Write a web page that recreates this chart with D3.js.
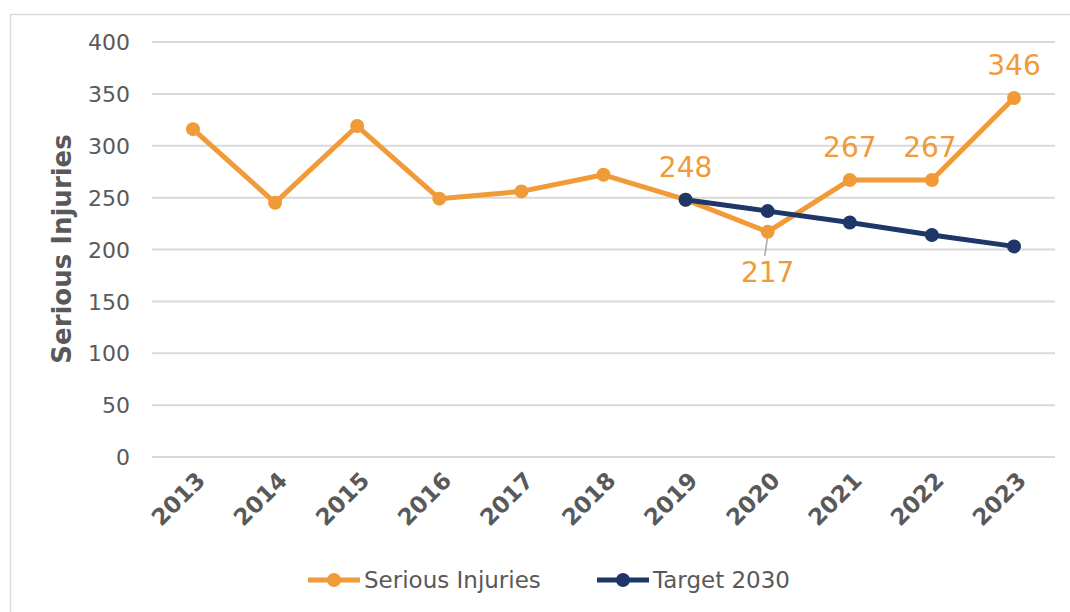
<!DOCTYPE html>
<html>
<head>
<meta charset="utf-8">
<script src="https://cdn.jsdelivr.net/npm/d3@7"></script>
<style>
  body { margin: 0; background: #fff; }
  svg { font-family: "DejaVu Sans", Verdana, sans-serif; }
</style>
</head>
<body>
<div id="chart"></div>
<script>
// data
var years = ["2013","2014","2015","2016","2017","2018","2019","2020","2021","2022","2023"];
var injuries = [316, 245, 319, 249, 256, 272, 248, 217, 267, 267, 346];
var targetYears = ["2019","2020","2021","2022","2023"];
var target = [248, 237, 226, 214, 203];
var yTicks = [0, 50, 100, 150, 200, 250, 300, 350, 400];
var labelled = ["2019","2020","2021","2022","2023"];

var width = 1070, height = 612;
var orange = "#F09A38", navy = "#1F3668";
var margin = {left: 152, right: 15, top: 42, bottom: 155};

var svg = d3.select("#chart").append("svg")
    .attr("width", width)
    .attr("height", height);

// chart area border
svg.append("rect")
    .attr("x", 10.5).attr("y", 14.5)
    .attr("width", 1070).attr("height", 620)
    .attr("fill", "none").attr("stroke", "#d9d9d9").attr("stroke-width", 1.5);

var x = d3.scalePoint().domain(years).range([193, 1014]);
var y = d3.scaleLinear().domain([0, 400]).range([457, 42]);

// gridlines
svg.selectAll(".grid").data(yTicks).enter().append("line")
    .attr("x1", margin.left).attr("x2", 1055)
    .attr("y1", function(d) { return y(d); })
    .attr("y2", function(d) { return y(d); })
    .attr("stroke", "#d9d9d9").attr("stroke-width", 2);

// y axis
var yAxis = svg.append("g")
    .attr("transform", "translate(130,0)")
    .call(d3.axisLeft(y).tickValues(yTicks).tickSize(0).tickPadding(0));
yAxis.select(".domain").remove();
yAxis.selectAll("text")
    .attr("fill", "#595959").attr("font-size", 22)
    .attr("font-family", "DejaVu Sans, Verdana, sans-serif")
    .attr("dy", "0.35em");

// x axis
var xAxis = svg.append("g")
    .attr("transform", "translate(0,457)")
    .call(d3.axisBottom(x).tickSize(0).tickPadding(0));
xAxis.select(".domain").remove();
xAxis.selectAll("text")
    .attr("fill", "#595959").attr("font-size", 23).attr("font-weight", "bold")
    .attr("font-family", "DejaVu Sans, Verdana, sans-serif")
    .attr("text-anchor", "end")
    .attr("dy", 0).attr("y", 0)
    .attr("transform", "translate(13,25) rotate(-45)");

// y title
svg.append("text")
    .attr("transform", "translate(71,249) rotate(-90)")
    .attr("text-anchor", "middle")
    .attr("font-size", 26).attr("font-weight", "bold")
    .attr("fill", "#595959")
    .text("Serious Injuries");

var line = d3.line()
    .x(function(d) { return x(d.year); })
    .y(function(d) { return y(d.value); });

var injData = years.map(function(yr, i) { return {year: yr, value: injuries[i]}; });
var tgtData = targetYears.map(function(yr, i) { return {year: yr, value: target[i]}; });

// leader line for 217
svg.append("line")
    .attr("x1", x("2020")).attr("x2", x("2020") - 3)
    .attr("y1", y(217) + 4).attr("y2", y(217) + 24)
    .attr("stroke", "#a6a6a6").attr("stroke-width", 1.5);

svg.append("path").datum(injData)
    .attr("d", line).attr("fill", "none")
    .attr("stroke", orange).attr("stroke-width", 5).attr("stroke-linejoin", "round");
svg.selectAll(".pi").data(injData).enter().append("circle")
    .attr("cx", function(d) { return x(d.year); })
    .attr("cy", function(d) { return y(d.value); })
    .attr("r", 7).attr("fill", orange);

svg.append("path").datum(tgtData)
    .attr("d", line).attr("fill", "none")
    .attr("stroke", navy).attr("stroke-width", 5).attr("stroke-linejoin", "round");
svg.selectAll(".pt").data(tgtData).enter().append("circle")
    .attr("cx", function(d) { return x(d.year); })
    .attr("cy", function(d) { return y(d.value); })
    .attr("r", 7).attr("fill", navy);

// data labels
var labData = injData.filter(function(d) { return labelled.indexOf(d.year) >= 0; });
svg.selectAll(".lab").data(labData).enter().append("text")
    .attr("x", function(d) { return x(d.year) + (d.year == "2022" ? -2 : 0); })
    .attr("y", function(d) {
        if (d.year == "2020") return y(d.value) + 50;
        return y(d.value) - 23;
    })
    .attr("text-anchor", "middle")
    .attr("font-size", 28).attr("fill", orange)
    .text(function(d) { return d.value; });

// legend
var legend = [{name: "Serious Injuries", color: orange, x: 308}, {name: "Target 2030", color: navy, x: 597}];
var lg = svg.selectAll(".lg").data(legend).enter().append("g")
    .attr("transform", function(d) { return "translate(" + d.x + ",580)"; });
lg.append("line").attr("x1", 0).attr("x2", 52)
    .attr("stroke", function(d) { return d.color; }).attr("stroke-width", 5);
lg.append("circle").attr("cx", 26).attr("r", 7)
    .attr("fill", function(d) { return d.color; });
lg.append("text").attr("x", 56).attr("dy", "0.35em")
    .attr("font-size", 23).attr("fill", "#595959")
    .text(function(d) { return d.name; });
</script>
</body>
</html>
